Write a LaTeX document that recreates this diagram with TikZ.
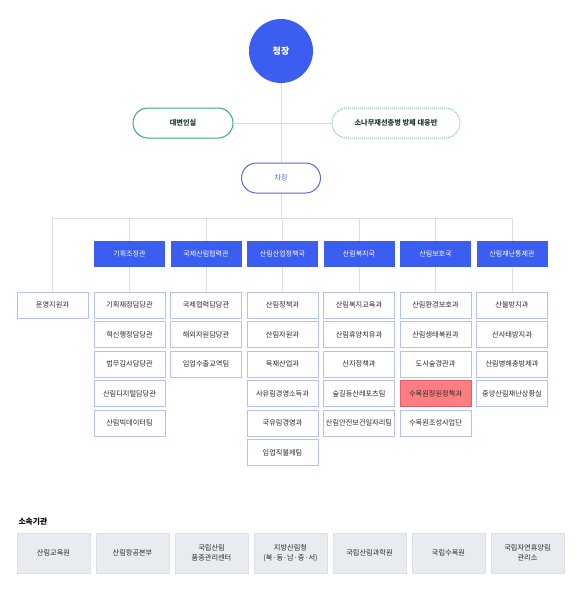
\documentclass[tikz,border=0pt]{standalone}
\usepackage{fontspec}
\setmainfont{Noto Sans CJK KR}
\usetikzlibrary{backgrounds}
\definecolor{mainblue}{RGB}{59,93,240}
\definecolor{chablue}{RGB}{80,110,215}
\definecolor{teal1}{RGB}{58,165,143}
\definecolor{teal2}{RGB}{120,195,180}
\definecolor{tealtext}{RGB}{30,60,55}
\definecolor{subborder}{RGB}{178,192,242}
\definecolor{linegray}{RGB}{222,222,222}
\definecolor{redfill}{RGB}{255,125,128}
\definecolor{redborder}{RGB}{222,96,108}
\definecolor{grayfill}{RGB}{232,236,241}
\definecolor{grayborder}{RGB}{220,225,231}
\definecolor{txt}{RGB}{40,40,45}
\tikzset{
  conn/.style={draw=linegray, line width=0.9pt},
  chiefnode/.style={circle, fill=mainblue, minimum size=64pt, inner sep=0pt, text=white, font=\fontsize{9}{10}\selectfont\bfseries},
  pillteal/.style={rounded corners=15pt, draw=teal1, line width=1pt, fill=white, minimum width=100pt, minimum height=30pt, inner sep=0pt, text=tealtext, font=\fontsize{7.2}{8}\selectfont\bfseries},
  pilldot/.style={rounded corners=15pt, draw=teal2, line width=1pt, densely dotted, fill=white, minimum width=128pt, minimum height=30pt, inner sep=0pt, text=tealtext, font=\fontsize{7.2}{8}\selectfont\bfseries},
  pillblue/.style={rounded corners=15pt, draw=chablue, line width=1pt, fill=white, minimum width=79pt, minimum height=30pt, inner sep=0pt, text=chablue, font=\fontsize{7.2}{8}\selectfont},
  headbox/.style={fill=mainblue, minimum width=71pt, minimum height=26pt, inner sep=0pt, text=white, font=\fontsize{7}{8}\selectfont},
  subbox/.style={draw=subborder, line width=0.8pt, fill=white, minimum width=71pt, minimum height=26pt, inner sep=0pt, text=txt, font=\fontsize{7.2}{8}\selectfont},
  redbox/.style={subbox, fill=redfill, draw=redborder},
  orgbox/.style={draw=grayborder, line width=0.8pt, fill=grayfill, minimum width=73pt, minimum height=40pt, inner sep=0pt, text=txt, align=center, font=\fontsize{7.2}{10}\selectfont},
}
\begin{document}
\begin{tikzpicture}[x=1pt,y=-1pt]
\useasboundingbox (0,0) rectangle (580,590);
\node[chiefnode] (chief) at (281,51) {청장};
\node[pillteal] (spokes) at (183,123) {대변인실};
\node[pilldot] (pine) at (396,123) {소나무재선충병 방제 대응반};
\node[pillblue] (cha) at (281,178) {차장};
\coordinate (busL) at (52.5,218);
\coordinate (busR) at (512,218);

\node[subbox] (op) at (52.5,305) {운영지원과};

\node[headbox] (h1) at (129.5,254) {기획조정관};
\node[headbox] (h2) at (206,254) {국제산림협력관};
\node[headbox] (h3) at (282.5,254) {산림산업정책국};
\node[headbox] (h4) at (359,254) {산림복지국};
\node[headbox] (h5) at (435.5,254) {산림보호국};
\node[headbox] (h6) at (512,254) {산림재난통제관};

% column 1
\node[subbox] (a1) at (129.5,305) {기획재정담당관};
\node[subbox] (a2) at (129.5,334.5) {혁신행정담당관};
\node[subbox] (a3) at (129.5,364) {법무감사담당관};
\node[subbox] (a4) at (129.5,393.5) {산림디지털담당관};
\node[subbox] (a5) at (129.5,423) {산림빅데이터팀};
% column 2
\node[subbox] (b1) at (206,305) {국제협력담당관};
\node[subbox] (b2) at (206,334.5) {해외자원담당관};
\node[subbox] (b3) at (206,364) {임업수출교역팀};
% column 3
\node[subbox] (c1) at (282.5,305) {산림정책과};
\node[subbox] (c2) at (282.5,334.5) {산림자원과};
\node[subbox] (c3) at (282.5,364) {목재산업과};
\node[subbox] (c4) at (282.5,393.5) {사유림경영소득과};
\node[subbox] (c5) at (282.5,423) {국유림경영과};
\node[subbox] (c6) at (282.5,452.5) {임업직불제팀};
% column 4
\node[subbox] (d1) at (359,305) {산림복지교육과};
\node[subbox] (d2) at (359,334.5) {산림휴양치유과};
\node[subbox] (d3) at (359,364) {산지정책과};
\node[subbox] (d4) at (359,393.5) {숲길등산레포츠팀};
\node[subbox] (d5) at (359,423) {산림안전보건일자리팀};
% column 5
\node[subbox] (e1) at (435.5,305) {산림환경보호과};
\node[subbox] (e2) at (435.5,334.5) {산림생태복원과};
\node[subbox] (e3) at (435.5,364) {도시숲경관과};
\node[redbox] (e4) at (435.5,393.5) {수목원정원정책과};
\node[subbox] (e5) at (435.5,423) {수목원조성사업단};
% column 6
\node[subbox] (f1) at (512,305) {산불방지과};
\node[subbox] (f2) at (512,334.5) {산사태방지과};
\node[subbox] (f3) at (512,364) {산림병해충방제과};
\node[subbox] (f4) at (512,393.5) {중앙산림재난상황실};

% affiliated
\node[anchor=west, text=black, font=\fontsize{7.8}{9}\selectfont\bfseries] (aff) at (15,522) {소속기관};
\node[orgbox] (g1) at (53.5,553) {산림교육원};
\node[orgbox] (g2) at (132.5,553) {산림항공본부};
\node[orgbox] (g3) at (211.5,553) {국립산림\\품종관리센터};
\node[orgbox] (g4) at (290.5,553) {지방산림청\\(북·동·남·중·서)};
\node[orgbox] (g5) at (369.5,553) {국립산림과학원};
\node[orgbox] (g6) at (448.5,553) {국립수목원};
\node[orgbox] (g7) at (527.5,553) {국립자연휴양림\\관리소};

\begin{scope}[on background layer]
\draw[conn] (chief.south) -- (cha.north);
\draw[conn] (spokes.east) -- (pine.west);
\draw[conn] (cha.south) -- (cha.south |- busL);
\draw[conn] (busL) -- (busR);
\draw[conn] (busL) -- (op.north);
\foreach \h/\s in {h1/a1,h2/b1,h3/c1,h4/d1,h5/e1,h6/f1}{
  \draw[conn] (\h.north |- busL) -- (\h.north);
  \draw[conn] (\h.south) -- (\s.north);
}
\end{scope}
\end{tikzpicture}
\end{document}
